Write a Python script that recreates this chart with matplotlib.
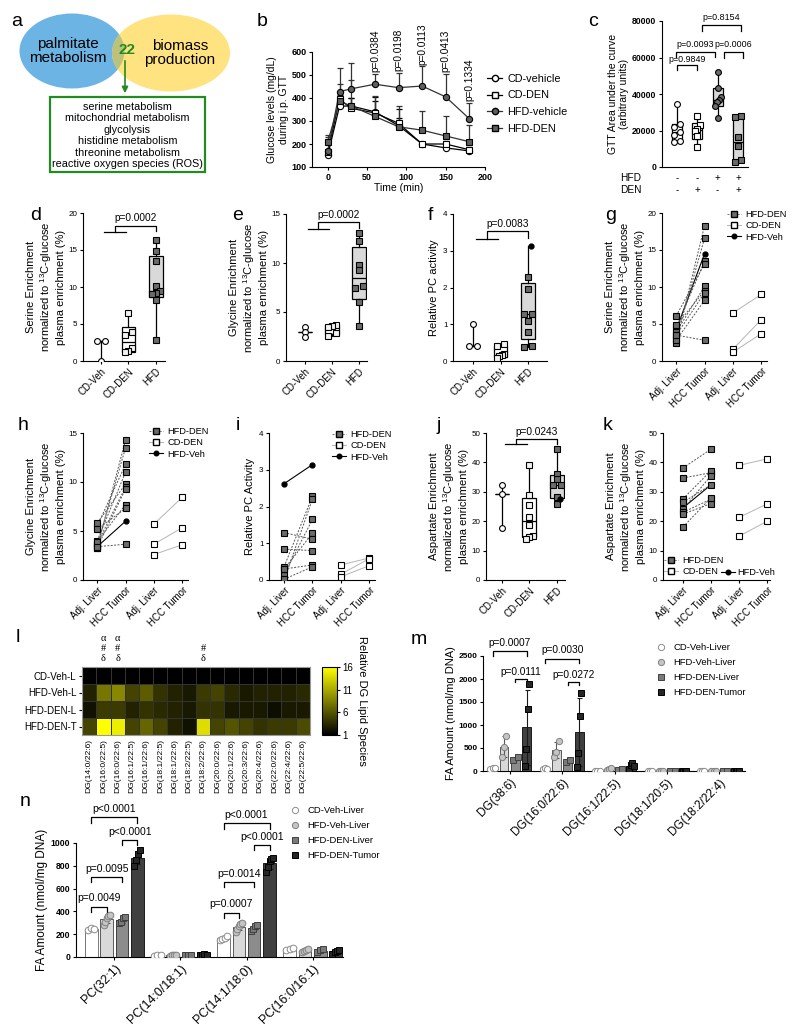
import numpy as np
import matplotlib
matplotlib.use('Agg')
import matplotlib.pyplot as plt
from matplotlib.patches import Ellipse, Rectangle, FancyArrowPatch
from matplotlib.lines import Line2D
from matplotlib.colors import LinearSegmentedColormap

plt.rcParams['font.family'] = ['Liberation Sans', 'DejaVu Sans']
plt.rcParams['mathtext.default'] = 'regular'
plt.rcParams['axes.linewidth'] = 0.8

W, H = 800, 1031

# ---------------- data ----------------
# a
venn_left = 'palmitate\nmetabolism'
venn_right = 'biomass\nproduction'
venn_shared = '22'
venn_terms = ['serine metabolism', 'mitochondrial metabolism', 'glycolysis',
              'histidine metabolism', 'threonine metabolism', 'reactive oxygen species (ROS)']

# b  glucose tolerance test
gtt_time = [0, 15, 30, 60, 90, 120, 150, 180]
gtt_cd_veh = [150, 365, 365, 340, 280, 200, 183, 170]
gtt_cd_veh_err = [10, 25, 35, 45, 35, 10, 12, 8]
gtt_cd_den = [165, 395, 355, 335, 290, 200, 200, 175]
gtt_cd_den_err = [15, 20, 45, 70, 60, 10, 15, 10]
gtt_hfd_veh = [170, 428, 440, 460, 445, 452, 405, 310]
gtt_hfd_veh_err = [60, 102, 110, 45, 65, 85, 98, 70]
gtt_hfd_den = [210, 385, 365, 320, 275, 260, 235, 210]
gtt_hfd_den_err = [30, 75, 115, 90, 90, 82, 85, 72]
gtt_p_labels = ['p=0.0384', 'p=0.0198', 'p=0.0113', 'p=0.0413', 'p=0.1334']

# c  GTT AUC
auc_cd_veh = [34500, 23500, 22000, 19000, 17500, 14500, 13500]
auc_cd_den = [28000, 23000, 21000, 19500, 17000, 11000]
auc_hfd_veh = [52000, 43500, 38400, 36500, 35600, 33200, 27000]
auc_hfd_den = [27800, 27400, 16400, 11500, 3900, 2600]
auc_hfd_row = ['-', '-', '+', '+']
auc_den_row = ['-', '+', '-', '+']

# d, e, f, j  box plots
groups3 = ['CD-Veh', 'CD-DEN', 'HFD']
ser_cd_veh = [2.7, 2.7, 0.0]
ser_cd_den = [6.5, 3.9, 3.5, 1.7, 1.3, 1.2]
ser_hfd = [16.4, 14.9, 13.5, 10.1, 9.4, 9.2, 9.1, 8.2, 2.8]
gly_cd_veh = [3.5, 3.0, 2.4]
gly_cd_den = [3.7, 3.6, 3.5, 2.9, 2.6]
gly_hfd = [13.1, 12.2, 9.8, 9.3, 7.7, 7.4, 6.0, 3.6]
pc_cd_veh = [1.0, 0.4, 0.4]
pc_cd_den = [0.45, 0.4, 0.2, 0.15, 0.13, 0.08]
pc_hfd = [2.28, 1.97, 1.29, 1.29, 1.1, 0.79, 0.4, 0.38]
pc_hfd_veh = [3.13]
asp_cd_veh = [32.4, 29.3, 17.6]
asp_cd_den = [39.0, 28.8, 25.6, 21.4, 18.6, 14.9, 14.5, 13.9]
asp_hfd = [44.5, 36.0, 34.3, 32.4, 32.4, 28.1, 25.9]
asp_hfd_veh = [27.6]

# g, h, i, k  paired liver / tumor
pair_ticks = ['Adj. Liver', 'HCC Tumor', 'Adj. Liver', 'HCC Tumor']
g_den_liver = [2.5, 3.0, 4.5, 6.1, 3.9, 4.8, 3.5, 2.8, 3.5]
g_den_tumor = [18.3, 16.6, 13.5, 13.1, 10.1, 9.5, 9.2, 8.2, 2.8]
g_veh = [4.2, 14.5]
g_cd_liver = [6.5, 1.6, 1.2]
g_cd_tumor = [9.0, 5.6, 3.7]
h_den_liver = [3.3, 3.5, 5.5, 4.0, 5.8, 3.7, 3.3, 3.9, 5.2, 3.4]
h_den_tumor = [14.3, 13.5, 11.8, 11.0, 9.8, 9.5, 9.3, 7.7, 7.3, 3.65]
h_veh = [3.4, 6.0]
h_cd_liver = [5.7, 3.65, 2.6]
h_cd_tumor = [8.45, 5.35, 3.6]
i_den_liver = [0.36, 0.0, 0.14, 0.3, 1.29, 0.84, 0.3, 0.02]
i_den_tumor = [2.28, 2.2, 1.65, 1.27, 1.11, 0.8, 0.41, 0.36]
i_veh = [2.62, 3.14]
i_cd_liver = [0.41, 0.16, 0.09]
i_cd_tumor = [0.6, 0.58, 0.39]
k_den_liver = [38.1, 34.7, 27.6, 26.4, 24.1, 23.0, 22.4, 18.0]
k_den_tumor = [44.5, 36.5, 37.2, 32.4, 35.5, 27.5, 26.0, 28.0]
k_veh = [24.5, 32.4]
k_cd_liver = [39.0, 21.3, 14.9]
k_cd_tumor = [41.2, 25.9, 20.0]

# l  heatmap
dg_species = ['DG(14:0/22:6)', 'DG(16:0/22:5)', 'DG(16:0/22:6)', 'DG(16:1/22:5)',
              'DG(16:1/22:6)', 'DG(18:1/22:5)', 'DG(18:1/22:6)', 'DG(18:2/22:5)',
              'DG(18:2/22:6)', 'DG(20:0/22:6)', 'DG(20:1/22:6)', 'DG(20:3/22:6)',
              'DG(20:4/22:6)', 'DG(22:0/22:6)', 'DG(22:4/22:6)', 'DG(22:5/22:6)']
dg_rows = ['CD-Veh-L', 'HFD-Veh-L', 'HFD-DEN-L', 'HFD-DEN-T']
dg_cd_veh_l = [1.0, 1.0, 1.0, 1.0, 1.0, 1.0, 1.0, 1.0, 1.0, 1.0, 1.0, 1.0, 1.0, 1.0, 1.0, 1.0]
dg_hfd_veh_l = [3.0, 8.0, 9.0, 5.0, 6.5, 4.0, 3.0, 2.5, 4.5, 5.0, 3.5, 2.5, 3.0, 3.0, 3.0, 3.5]
dg_hfd_den_l = [2.0, 4.5, 4.5, 3.0, 4.0, 3.5, 3.0, 2.5, 4.0, 4.0, 2.5, 2.5, 2.5, 1.8, 2.5, 2.5]
dg_hfd_den_t = [5.0, 16.0, 15.0, 5.0, 7.0, 5.0, 3.0, 2.0, 14.0, 5.0, 6.0, 5.0, 4.0, 4.5, 4.5, 5.5]
dg_marks = {1: 'α\n#\nδ', 2: 'α\n#\nδ', 8: '#\nδ'}

# m  DG amounts
m_species = ['DG(38:6)', 'DG(16:0/22:6)', 'DG(16:1/22:5)', 'DG(18:1/20:5)', 'DG(18:2/22:4)']
m_cd_veh = [[50, 70, 60], [40, 55, 50], [5, 8, 4], [3, 5, 4], [3, 5, 4]]
m_hfd_veh = [[300, 520, 760], [300, 420, 650], [30, 45, 60], [4, 6, 5], [4, 6, 5]]
m_den_liver = [[250, 300], [200, 240], [25, 35], [5, 6], [5, 6]]
m_den_tumor = [[100, 480, 1340, 1900], [90, 400, 1190, 1700], [50, 130, 180, 110], [6, 8, 10, 7], [6, 8, 10, 7]]

# n  PC amounts
n_species = ['PC(32:1)', 'PC(14:0/18:1)', 'PC(14:1/18:0)', 'PC(16:0/16:1)']
n_cd_veh = [[240, 255, 250], [12, 15, 14], [150, 160, 170, 180], [60, 70, 80]]
n_hfd_veh = [[280, 310, 340, 360, 370], [12, 15, 18, 14], [220, 250, 270, 290, 300], [40, 50, 60, 70]]
n_den_liver = [[300, 310, 340, 350], [15, 18, 20], [230, 250, 270, 280], [40, 60, 70]]
n_den_tumor = [[800, 850, 900, 940], [15, 20, 22, 18], [750, 790, 840, 860, 870], [30, 40, 50, 60]]

bar_groups = ['CD-Veh-Liver', 'HFD-Veh-Liver', 'HFD-DEN-Liver', 'HFD-DEN-Tumor']

# ---------------- helpers ----------------
fig = plt.figure(figsize=(8, 10.31), dpi=100)


def add_ax(l, t, r, b):
    return fig.add_axes([l / W, 1 - b / H, (r - l) / W, (b - t) / H])


def letter(x, y, s):
    fig.text(x / W, 1 - y / H, s, fontsize=14, ha='left', va='center')


def style(ax, fs=5.8, bold=False):
    for s in ['top', 'right']:
        ax.spines[s].set_visible(False)
    ax.tick_params(labelsize=fs, length=2.5, width=0.8, pad=1.5)
    if bold:
        for lab in ax.get_xticklabels() + ax.get_yticklabels():
            lab.set_fontweight('bold')


def spread(vals, thr, w=0.14):
    vals = np.asarray(vals, float)
    order = np.argsort(vals)
    off = np.zeros(len(vals))
    i = 0
    while i < len(order):
        j = i
        while j + 1 < len(order) and vals[order[j + 1]] - vals[order[j]] < thr:
            j += 1
        k = j - i + 1
        if k > 1:
            off[order[i:j + 1]] = np.linspace(-w, w, k)
        i = j + 1
    return off


def boxgroup(ax, x, vals, marker, mfc, boxfc, thr, extra=None):
    allv = np.sort(np.array(list(vals) + (extra or []), float))
    med = np.median(allv)
    if len(allv) <= 3:
        q1 = q3 = med
    else:
        q1, q3 = np.percentile(allv, [25, 75], method='weibull')
    st = dict(med=med, q1=q1, q3=q3, whislo=allv.min(), whishi=allv.max(), fliers=[])
    ax.bxp([st], positions=[x], widths=0.5, showfliers=False, patch_artist=True,
           boxprops=dict(facecolor=boxfc, edgecolor='black', linewidth=0.9),
           medianprops=dict(color='black', linewidth=0.9),
           whiskerprops=dict(color='black', linewidth=0.9),
           capprops=dict(linewidth=0), manage_ticks=False)
    off = spread(vals, thr)
    ax.plot(x + off, vals, ls='none', marker=marker, mfc=mfc, mec='black', ms=4.2, mew=0.8, zorder=5)
    if extra:
        ax.plot([x + 0.12] * len(extra), extra, ls='none', marker='o', mfc='black', mec='black', ms=3.5, zorder=6)


def one_vs_two(ax, xl0, xl1, xr, y1, y2, y3, text, ty):
    kw = dict(color='black', lw=0.9, clip_on=False)
    ax.plot([xl0, xl1], [y1, y1], **kw)
    xm = (xl0 + xl1) / 2
    ax.plot([xm, xm, xr, xr], [y1, y2, y2, y3], **kw)
    ax.text((xm + xr) / 2, ty, text, ha='center', va='bottom', fontsize=7.3, clip_on=False)


def bracket(ax, x0, x1, ytop, drop, text, tpad, fs=7.3):
    ax.plot([x0, x0, x1, x1], [ytop - drop, ytop, ytop, ytop - drop], color='black', lw=0.9, clip_on=False)
    ax.text((x0 + x1) / 2, ytop + tpad, text, ha='center', va='bottom', fontsize=fs, clip_on=False)


# ---------------- a ----------------
letter(11, 22, 'a')
ax = add_ax(0, 0, 260, 180)
ax.set_xlim(0, 260)
ax.set_ylim(180, 0)
ax.axis('off')
blue = Ellipse((72, 51), 105, 75, color='#6cb4e4', lw=0)
yellow = Ellipse((171, 53), 118, 77, color='#ffe380', lw=0)
ax.add_patch(blue)
ax.add_patch(yellow)
lens = Ellipse((72, 51), 105, 75, color='#bcc27a', lw=0)
ax.add_patch(lens)
lens.set_clip_path(yellow)
ax.text(68, 51, venn_left, ha='center', va='center', fontsize=11, linespacing=1.05)
ax.text(180, 53, venn_right, ha='center', va='center', fontsize=11, linespacing=1.05)
ax.text(127, 50, venn_shared, ha='center', va='center', fontsize=11, fontweight='bold', color='#228b22')
ax.add_patch(FancyArrowPatch((125, 58), (125, 96), arrowstyle='-|>', mutation_scale=9,
                             color='#228b22', lw=1.2))
ax.add_patch(Rectangle((50, 97), 155, 75, fill=False, edgecolor='#228b22', lw=1.6))
for i, t in enumerate(venn_terms):
    ax.text(127.5, 107 + 11.4 * i, t, ha='center', va='center', fontsize=7.8)

# ---------------- b ----------------
letter(257, 22, 'b')
ax = add_ax(312, 52, 485, 167)
b_series = [(gtt_cd_veh, gtt_cd_veh_err, 'o', 'white', 'black', 'CD-vehicle'),
            (gtt_cd_den, gtt_cd_den_err, 's', 'white', 'black', 'CD-DEN'),
            (gtt_hfd_veh, gtt_hfd_veh_err, 'o', '#5f5f5f', '#333333', 'HFD-vehicle'),
            (gtt_hfd_den, gtt_hfd_den_err, 's', '#5f5f5f', '#333333', 'HFD-DEN')]
handles = []
for vals, err, mk, fc, lc, lab in b_series:
    ax.errorbar(gtt_time, vals, yerr=[np.zeros(len(err)), err], fmt='-', color=lc, lw=0.9,
                ecolor=lc, elinewidth=0.9, capsize=2.2, capthick=0.9, zorder=3)
    ax.plot(gtt_time, vals, ls='none', marker=mk, mfc=fc, mec='black', ms=4.5, mew=0.8, zorder=4)
    handles.append(Line2D([0], [0], color=lc, lw=0.9, marker=mk, mfc=fc, mec='black', ms=4.5))
top = np.array(gtt_hfd_veh) + np.array(gtt_hfd_veh_err)
for t, y, lab in zip(gtt_time[3:], top[3:], gtt_p_labels):
    ax.text(t, y + 8, lab, rotation=90, ha='center', va='bottom', fontsize=7.3, clip_on=False)
ax.set_xlim(-20, 200)
ax.set_ylim(100, 600)
ax.set_xticks([0, 50, 100, 150, 200])
ax.set_yticks([100, 200, 300, 400, 500, 600])
ax.set_xlabel('Time (min)', fontsize=7.5, labelpad=1)
ax.set_ylabel('Glucose levels (mg/dL)\nduring i.p. GTT', fontsize=7.5, labelpad=2)
style(ax, fs=6.5, bold=True)
fig.legend(handles, [s[5] for s in b_series], loc='upper left', bbox_to_anchor=(487 / W, 1 - 74 / H),
           frameon=False, fontsize=7.8, handlelength=1.4, handletextpad=0.5, labelspacing=0.6,
           borderaxespad=0, borderpad=0)

# ---------------- c ----------------
letter(588, 22, 'c')
ax = add_ax(662, 21, 753, 167)
boxgroup(ax, 1, auc_cd_veh, 'o', 'white', 'white', 2500)
boxgroup(ax, 2, auc_cd_den, 's', 'white', 'white', 2500)
boxgroup(ax, 3, auc_hfd_veh, 'o', '#6b6b6b', '#d9d9d9', 2500)
boxgroup(ax, 4, auc_hfd_den, 's', '#6b6b6b', '#d9d9d9', 2500)
ax.set_xlim(0.26, 4.74)
ax.set_ylim(0, 80000)
ax.set_yticks([0, 20000, 40000, 60000, 80000])
ax.set_xticks([])
ax.spines['bottom'].set_bounds(0.26, 4.5)
ax.set_ylabel('GTT Area under the curve\n(arbitrary units)', fontsize=7.5, labelpad=2)
style(ax, fs=6.2, bold=True)
bracket(ax, 1.0, 1.97, 55700, 2700, 'p=0.9849', 900, fs=6.4)
bracket(ax, 0.95, 2.87, 63000, 2700, 'p=0.0093', 1800, fs=6.4)
bracket(ax, 3.32, 4.24, 63000, 3000, 'p=0.0006', 1800, fs=6.4)
bracket(ax, 2.21, 4.16, 77600, 3000, 'p=0.8154', 2000, fs=6.4)
xt = ax.get_xaxis_transform()
ax.text(-0.75, -0.075, 'HFD', transform=xt, ha='right', va='center', fontsize=7.3)
ax.text(-0.75, -0.16, 'DEN', transform=xt, ha='right', va='center', fontsize=7.3)
for i, (s1, s2) in enumerate(zip(auc_hfd_row, auc_den_row)):
    ax.text(i + 1, -0.075, s1, transform=xt, ha='center', va='center', fontsize=7)
    ax.text(i + 1, -0.16, s2, transform=xt, ha='center', va='center', fontsize=7)

# ---------------- d, e, f, j ----------------
box_panels = [
    ('d', (30, 215), (83, 213, 165, 361), (0.34, 3.34), (0, 20), [0, 5, 10, 15, 20],
     ser_cd_veh, ser_cd_den, ser_hfd, None, 'Serine Enrichment', 0.5,
     (17.4, 18.3, 17.6, 18.6), 'p=0.0002'),
    ('e', (232, 215), (286, 214, 367, 361), (0.3, 3.3), (0, 15), [0, 5, 10, 15],
     gly_cd_veh, gly_cd_den, gly_hfd, None, 'Glycine Enrichment', 0.4,
     (13.5, 14.2, 13.6, 14.4), 'p=0.0002'),
    ('f', (428, 215), (453, 214, 547, 361), (0.27, 3.69), (0, 4), [0, 1, 2, 3, 4],
     pc_cd_veh, pc_cd_den, pc_hfd, pc_hfd_veh, 'Relative PC activity', 0.06,
     (3.32, 3.53, 3.35, 3.6), 'p=0.0083'),
    ('j', (437, 425), (486, 433, 565, 580), (0.42, 3.3), (0, 50), [0, 10, 20, 30, 40, 50],
     asp_cd_veh, asp_cd_den, asp_hfd, asp_hfd_veh, 'Aspartate Enrichment', 1.0,
     (46.2, 48.0, 46.3, 48.6), 'p=0.0243'),
]
for lab, lpos, rect, xl, yl, yt, v1, v2, v3, vx, name, thr, br, ptxt in box_panels:
    letter(lpos[0], lpos[1], lab)
    ax = add_ax(*rect)
    boxgroup(ax, 1, v1, 'o', 'white', 'white', thr)
    boxgroup(ax, 2, v2, 's', '#f2f2f2', 'white', thr)
    boxgroup(ax, 3, v3, 's', '#6b6b6b', '#d9d9d9', thr, extra=vx)
    ax.set_xlim(*xl)
    ax.set_ylim(*yl)
    ax.set_yticks(yt)
    ax.set_xticks([1, 2, 3])
    ax.set_xticklabels(groups3, rotation=45, ha='right', rotation_mode='anchor')
    if lab == 'f':
        ax.set_ylabel(name, fontsize=8, labelpad=3)
    else:
        ax.set_ylabel(name + '\nnormalized to $^{13}$C-glucose\nplasma enrichment (%)', fontsize=8, labelpad=2)
    style(ax, fs=5.8)
    for t in ax.get_xticklabels():
        t.set_fontsize(7)
    one_vs_two(ax, 1.1, 1.9, 3.0, br[0], br[1], br[2], ptxt, br[3])

# ---------------- g, h, i, k ----------------
def paired(ax, den_l, den_t, veh, cd_l, cd_t):
    for a, b in zip(cd_l, cd_t):
        ax.plot([3, 4], [a, b], '-', color='#b5b5b5', lw=0.7, marker='s', mfc='white', mec='black',
                ms=4.2, mew=0.8, zorder=3)
    ax.plot([1, 2], veh, '-', color='black', lw=0.8, marker='o', mfc='black', mec='black', ms=3.5, zorder=4)
    for a, b in zip(den_l, den_t):
        ax.plot([1, 2], [a, b], ls=(0, (2, 1.5)), color='#555555', lw=0.7, marker='s', mfc='#6b6b6b',
                mec='black', ms=4.2, mew=0.8, zorder=5)


def pair_handles():
    return [Line2D([0], [0], ls=(0, (2, 1.5)), color='#777777', lw=0.7, marker='s', mfc='#6b6b6b', mec='black', ms=4),
            Line2D([0], [0], ls='-', color='#b5b5b5', lw=0.7, marker='s', mfc='white', mec='black', ms=4),
            Line2D([0], [0], ls='-', color='black', lw=0.8, marker='o', mfc='black', mec='black', ms=3.3)]


pair_labels = ['HFD-DEN', 'CD-DEN', 'HFD-Veh']
pair_panels = [
    ('g', (605, 215), (662, 213, 767, 361), (0.5, 4.2), (0, 20), [0, 5, 10, 15, 20],
     (g_den_liver, g_den_tumor, g_veh, g_cd_liver, g_cd_tumor), 'Serine Enrichment', (727, 210)),
    ('h', (18, 425), (83, 433, 188, 580), (0.5, 4.2), (0, 15), [0, 5, 10, 15],
     (h_den_liver, h_den_tumor, h_veh, h_cd_liver, h_cd_tumor), 'Glycine Enrichment', (149, 427)),
    ('i', (236, 425), (269, 433, 375, 580), (0.47, 4.2), (0, 4), [0, 1, 2, 3, 4],
     (i_den_liver, i_den_tumor, i_veh, i_cd_liver, i_cd_tumor), 'Relative PC Activity', (332, 430)),
    ('k', (603, 425), (663, 433, 770, 580), (0.29, 4.1), (0, 50), [0, 10, 20, 30, 40, 50],
     (k_den_liver, k_den_tumor, k_veh, k_cd_liver, k_cd_tumor), 'Aspartate Enrichment', None),
]
for lab, lpos, rect, xl, yl, yt, data, name, legpos in pair_panels:
    letter(lpos[0], lpos[1], lab)
    ax = add_ax(*rect)
    paired(ax, *data)
    ax.set_xlim(*xl)
    ax.set_ylim(*yl)
    ax.set_yticks(yt)
    ax.set_xticks([1, 2, 3, 4])
    ax.set_xticklabels(pair_ticks, rotation=45, ha='right', rotation_mode='anchor')
    if lab == 'i':
        ax.set_ylabel(name, fontsize=8, labelpad=3)
    else:
        ax.set_ylabel(name + '\nnormalized to $^{13}$C-glucose\nplasma enrichment (%)', fontsize=8, labelpad=2)
    style(ax, fs=5.8)
    for t in ax.get_xticklabels():
        t.set_fontsize(7)
    hs = pair_handles()
    if legpos is not None:
        fig.legend(hs, pair_labels, loc='upper left', bbox_to_anchor=(legpos[0] / W, 1 - legpos[1] / H),
                   frameon=False, fontsize=6.7, handlelength=1.5, handletextpad=0.5, labelspacing=0.25,
                   borderaxespad=0, borderpad=0)
    else:
        fig.legend(hs[:2], pair_labels[:2], loc='upper left', bbox_to_anchor=(664 / W, 1 - 556 / H),
                   frameon=False, fontsize=6.7, handlelength=1.5, handletextpad=0.5, labelspacing=0.25,
                   borderaxespad=0, borderpad=0)
        fig.legend(hs[2:], pair_labels[2:], loc='upper left', bbox_to_anchor=(721 / W, 1 - 568 / H),
                   frameon=False, fontsize=6.7, handlelength=1.5, handletextpad=0.3,
                   borderaxespad=0, borderpad=0)

# ---------------- l ----------------
letter(16, 638, 'l')
ax = add_ax(82, 667, 310, 735)
dg = np.array([dg_cd_veh_l, dg_hfd_veh_l, dg_hfd_den_l, dg_hfd_den_t])
cmap = LinearSegmentedColormap.from_list('blackyellow', ['#000000', '#ffff00'])
mesh = ax.pcolormesh(dg, cmap=cmap, vmin=1, vmax=16, edgecolors='#333333', linewidth=0.5)
ax.set_xlim(0, len(dg_species))
ax.set_ylim(len(dg_rows), 0)
ax.set_xticks(np.arange(len(dg_species)) + 0.5)
ax.set_xticklabels(dg_species, rotation=90, fontsize=6.1)
ax.set_yticks(np.arange(len(dg_rows)) + 0.5)
ax.set_yticklabels(dg_rows, fontsize=7)
ax.tick_params(length=2.5, width=0.8, pad=1.5)
ax.tick_params(axis='x', length=0, pad=3)
for s in ax.spines.values():
    s.set_color('#999999')
xt = ax.get_xaxis_transform()
for col, txt in dg_marks.items():
    ax.text(col + 0.5, 1.06, txt, transform=xt, ha='center', va='bottom', fontsize=7.5,
            family=['Liberation Serif', 'DejaVu Serif'], linespacing=1.15)
cax = add_ax(322, 667, 337, 735)
cb = fig.colorbar(mesh, cax=cax, ticks=[1, 6, 11, 16])
cb.ax.tick_params(labelsize=7, length=2.5, width=0.8, pad=1.5)
cb.outline.set_linewidth(0.8)
cb.set_label('Relative DG Lipid Species', rotation=270, fontsize=8, labelpad=10)

# ---------------- m, n ----------------
bar_style = [('white', '#777777', 'o', 'white', '#8c8c8c'),
             ('#d9d9d9', '#595959', 'o', '#c4c4c4', '#808080'),
             ('#8c8c8c', '#404040', 's', '#7a7a7a', '#404040'),
             ('#404040', '#1a1a1a', 's', '#262626', '#000000')]


def barpanel(ax, series, offs, width, ms):
    for si, (s, (fc, ec, mk, mfc, mec)) in enumerate(zip(series, bar_style)):
        for gi, pts in enumerate(s):
            x = gi + offs[si]
            m = np.mean(pts)
            sd = np.std(pts, ddof=1)
            ax.bar(x, m, width, color=fc, edgecolor=ec, linewidth=0.7, zorder=2)
            ax.errorbar(x, m, yerr=sd, color=ec, elinewidth=0.8, capsize=1.8, capthick=0.8, zorder=3)
            xo = x + np.linspace(-width * 0.25, width * 0.25, len(pts))
            ax.plot(xo, pts, ls='none', marker=mk, mfc=mfc, mec=mec, ms=ms, mew=0.7, zorder=4)


def bar_legend(x, y):
    hs = [Line2D([0], [0], ls='none', marker=mk, mfc=mfc, mec=mec, ms=4.5, mew=0.7)
          for fc, ec, mk, mfc, mec in bar_style]
    fig.legend(hs, bar_groups, loc='upper left', bbox_to_anchor=(x / W, 1 - y / H), frameon=False,
               fontsize=6.8, handlelength=1.0, handletextpad=0.8, labelspacing=0.65,
               borderaxespad=0, borderpad=0)


letter(411, 640, 'm')
ax = add_ax(483, 656, 745, 771)
m_offs = [-0.326, -0.109, 0.109, 0.326]
barpanel(ax, [m_cd_veh, m_hfd_veh, m_den_liver, m_den_tumor], m_offs, 0.17, 4.5)
ax.set_xlim(-0.51, 4.49)
ax.set_ylim(0, 2500)
ax.set_yticks([0, 500, 1000, 1500, 2000, 2500])
ax.set_xticks(range(len(m_species)))
ax.set_xticklabels(m_species, rotation=45, ha='right', rotation_mode='anchor')
ax.set_ylabel('FA Amount (nmol/mg DNA)', fontsize=8, labelpad=2)
style(ax, fs=6, bold=True)
for t in ax.get_xticklabels():
    t.set_fontsize(8.5)
    t.set_fontweight('normal')
bracket(ax, m_offs[0], m_offs[3], 2600, 95, 'p=0.0007', 70)
bracket(ax, m_offs[2], m_offs[3], 2000, 60, 'p=0.0111', 40)
bracket(ax, 1 + m_offs[0], 1 + m_offs[3], 2442, 95, 'p=0.0030', 70)
bracket(ax, 1 + m_offs[2], 1 + m_offs[3], 1935, 60, 'p=0.0272', 40)
bar_legend(656, 643)

letter(20, 802, 'n')
ax = add_ax(76, 843, 343, 957)
n_offs = [-0.348, -0.116, 0.116, 0.348]
barpanel(ax, [n_cd_veh, n_hfd_veh, n_den_liver, n_den_tumor], n_offs, 0.19, 4.8)
ax.set_xlim(-0.58, 3.46)
ax.set_ylim(0, 1000)
ax.set_yticks([0, 200, 400, 600, 800, 1000])
ax.set_xticks(range(len(n_species)))
ax.set_xticklabels(n_species, rotation=45, ha='right', rotation_mode='anchor')
ax.set_ylabel('FA Amount (nmol/mg DNA)', fontsize=8.5, labelpad=2)
style(ax, fs=6.2, bold=True)
for t in ax.get_xticklabels():
    t.set_fontsize(9)
    t.set_fontweight('normal')
for g, tops in [(0, [1224, 1024, 700, 440]), (2, [1172, 980, 657, 387])]:
    bracket(ax, g + n_offs[0], g + n_offs[3], tops[0], 45, 'p<0.0001', 30, fs=7.5)
    bracket(ax, g + n_offs[2], g + n_offs[3], tops[1], 45, 'p<0.0001', 30, fs=7.5)
    bracket(ax, g + n_offs[0], g + n_offs[2], tops[2], 45, 'p=0.0095' if g == 0 else 'p=0.0014', 30, fs=7.5)
    bracket(ax, g + n_offs[0], g + n_offs[1], tops[3], 45, 'p=0.0049' if g == 0 else 'p=0.0007', 30, fs=7.5)
bar_legend(290, 806)

fig.savefig('out.png', dpi=100)
